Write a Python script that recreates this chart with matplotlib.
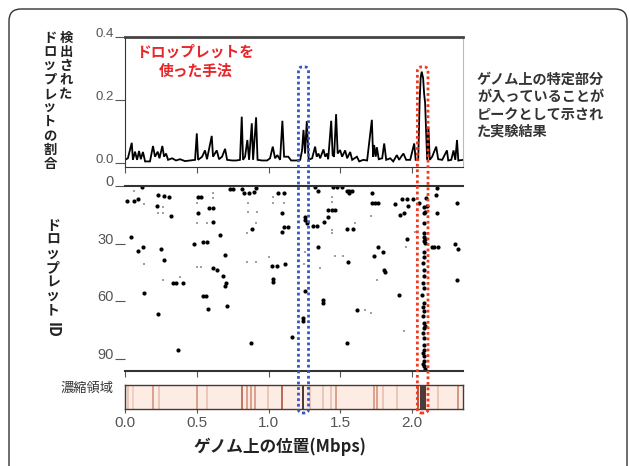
import matplotlib
matplotlib.use("Agg")
import matplotlib.pyplot as plt
from matplotlib.patches import FancyBboxPatch
from matplotlib.colors import LinearSegmentedColormap
from matplotlib.transforms import IdentityTransform

plt.rcParams['font.family'] = ['Noto Sans CJK JP', 'DejaVu Sans']

# top panel: fraction of droplets (position in Mbps, value)
line_x = [0.0, 0.02, 0.047, 0.055, 0.07, 0.084, 0.098, 0.11, 0.125, 0.14, 0.174, 0.195, 0.209, 0.228,
          0.24, 0.26, 0.272, 0.286, 0.3, 0.328, 0.355, 0.383, 0.418, 0.453, 0.488, 0.5, 0.509, 0.537,
          0.557, 0.571, 0.604, 0.613, 0.639, 0.655, 0.676, 0.697, 0.711, 0.746, 0.774, 0.801, 0.813,
          0.822, 0.836, 0.852, 0.864, 0.883, 0.892, 0.913, 0.923, 0.955, 0.99, 1.01, 1.029, 1.045,
          1.061, 1.08, 1.096, 1.108, 1.137, 1.157, 1.192, 1.22, 1.233, 1.243, 1.254, 1.266, 1.279,
          1.303, 1.324, 1.335, 1.347, 1.359, 1.382, 1.394, 1.406, 1.415, 1.436, 1.446, 1.456, 1.47,
          1.481, 1.498, 1.512, 1.533, 1.547, 1.568, 1.582, 1.615, 1.631, 1.659, 1.686, 1.719, 1.728,
          1.735, 1.746, 1.754, 1.767, 1.791, 1.805, 1.819, 1.847, 1.868, 1.893, 1.909, 1.923, 1.939,
          1.958, 1.986, 2.014, 2.024, 2.042, 2.052, 2.059, 2.066, 2.076, 2.083, 2.09, 2.097, 2.104,
          2.113, 2.122, 2.139, 2.167, 2.181, 2.209, 2.242, 2.251, 2.272, 2.288, 2.3, 2.312, 2.321, 2.356]
line_y = [0.01, 0.015, 0.064, 0.01, 0.036, 0.01, 0.038, 0.012, 0.035, 0.005, 0.005, 0.054, 0.02, 0.036,
          0.015, 0.054, 0.02, 0.03, 0.01, 0.015, 0.008, 0.012, 0.006, 0.008, 0.01, 0.094, 0.01, 0.02,
          0.04, 0.012, 0.086, 0.02, 0.04, 0.012, 0.02, 0.045, 0.01, 0.008, 0.008, 0.01, 0.147,
          0.01, 0.02, 0.073, 0.01, 0.126, 0.01, 0.145, 0.01, 0.008, 0.008, 0.015, 0.052, 0.015,
          0.025, 0.01, 0.134, 0.02, 0.02, 0.008, 0.008, 0.01, 0.04, 0.105, 0.03, 0.133, 0.01,
          0.015, 0.052, 0.02, 0.03, 0.015, 0.043, 0.02, 0.03, 0.012, 0.134, 0.025, 0.02, 0.155,
          0.03, 0.041, 0.02, 0.04, 0.015, 0.035, 0.01, 0.02, 0.005, 0.01, 0.008, 0.137, 0.02,
          0.057, 0.02, 0.05, 0.012, 0.015, 0.062, 0.01, 0.015, 0.005, 0.025, 0.01, 0.02, 0.03,
          0.01, 0.01, 0.062, 0.01, 0.01, 0.2, 0.27, 0.29, 0.27, 0.22, 0.19, 0.1, 0.01,
          0.115, 0.01, 0.02, 0.052, 0.012, 0.01, 0.04, 0.008, 0.01, 0.04, 0.01, 0.073, 0.008, 0.01]

# middle panel: droplets with a read (position in Mbps, droplet ID)
dot_x = [0.012, 0.065, 0.093, 0.121, 0.04, 0.093, 0.123, 0.232, 0.272, 0.309, 0.225, 0.32, 0.249, 0.272,
         0.337, 0.355, 0.402, 0.367, 0.506, 0.527, 0.511, 0.483, 0.541, 0.569, 0.585, 0.613, 0.616,
         0.616, 0.639, 0.662, 0.697, 0.68, 0.697, 0.7, 0.708, 0.541, 0.564, 0.576, 0.732, 0.753, 0.817,
         0.831, 0.864, 0.899, 0.913, 0.883, 0.88, 1.022, 1.061, 1.115, 1.064, 1.108, 1.092, 1.108,
         1.136, 1.09, 1.03, 1.034, 1.161, 1.254, 1.254, 1.266, 1.254, 1.24, 1.24, 1.324, 1.312, 1.336,
         1.347, 1.347, 1.449, 1.474, 1.51, 1.545, 1.561, 1.58, 1.561, 1.387, 1.417, 1.417, 1.44, 1.463,
         1.545, 1.591, 1.719, 1.719, 1.742, 1.765, 1.882, 1.916, 1.94, 1.928, 1.963, 1.974, 2.008,
         2.044, 2.098, 2.102, 2.086, 2.172, 2.167, 2.172, 2.311, 1.963, 2.137, 2.155, 2.183, 2.295,
         2.316, 1.765, 1.735, 1.8, 1.556, 1.812, 1.805, 1.905, 1.378, 1.378, 1.614, 1.549, 2.311,
         0.132, 0.23,
         2.085, 2.08, 2.08, 2.085, 2.08, 2.09, 2.08, 2.09, 2.085, 2.08, 2.075, 2.085, 2.08, 2.075,
         2.08, 2.07, 2.085, 2.075, 2.085, 2.075, 2.08, 2.09, 2.085, 2.075, 2.085, 2.08, 2.085,
         2.075, 2.08, 2.085, 2.075, 2.08, 2.09]
dot_id = [7.6, 7.8, 6.8, 0.4, 26.7, 33.7, 31.6, 4.7, 5.2, 5.6, 10.4, 15.6, 32.8, 38.5,
          50.6, 50.6, 50.6, 85.8, 5.6, 5.6, 14.2, 30.5, 29.3, 29.3, 11.3, 11.3, 18.6,
          42.8, 43.7, 25.5, 35.9, 46.8, 52.4, 50.8, 62.8, 57.6, 57.6, 64.0, 1.6, 1.6, 1.6,
          3.5, 3.5, 3.3, 1.0, 22.4, 81.8, 41.6, 41.6, 40.7, 3.5, 3.5, 13.9, 21.5,
          21.5, 24.1, 48.5, 50.3, 78.9, 16.0, 17.7, 19.4, 55.0, 68.8, 70.6, 0.4, 20.8, 20.8,
          31.6, 2.4, 0.4, 0.4, 0.4, 2.4, 2.4, 2.4, 3.5, 18.6, 16.0, 12.5, 12.5, 12.5,
          22.5, 22.5, 3.5, 8.7, 8.7, 8.7, 9.4, 15.1, 13.9, 6.6, 6.6, 10.4, 6.6,
          9.0, 6.4, 10.4, 13.4, 1.2, 4.7, 14.2, 9.0, 27.7, 31.6, 31.6, 31.6, 30.4,
          32.9, 31.9, 36.4, 34.5, 39.9, 44.9, 43.8, 56.7, 59.7, 60.9, 64.9, 81.8, 48.9,
          55.8, 66.6,
          10.8, 14.2, 19.4, 24.6, 26.4, 27.5, 28.6, 29.8, 34.2, 36.8, 40.2, 43.7, 47.2, 50.6,
          53.2, 56.7, 61.0, 63.0, 65.4, 68.0, 71.4, 73.0, 74.0, 76.6, 79.2, 82.7, 85.3,
          87.0, 88.8, 91.4, 93.0, 94.0, 95.5]

faint_x = [0.065, 0.132, 0.132, 0.267, 0.232, 0.267, 0.263, 0.383, 0.5, 0.5, 0.569, 0.5, 0.53, 0.616,
           0.616, 0.86, 0.86, 0.918, 0.852, 0.913, 0.852, 0.913, 1.006, 1.034, 1.034, 1.108, 1.215,
           1.254, 1.247, 1.44, 1.44, 1.44, 1.44, 1.6, 1.714, 1.958, 2.021, 1.463, 1.517, 1.754, 1.359,
           1.672, 1.712, 1.94]
faint_id = [2.4, 9.4, 40.7, 11.1, 13.9, 13.9, 48.9, 47.5, 9.0, 19.4, 19.4, 42.5, 42.5, 3.8,
            6.5, 9.0, 13.4, 13.4, 24.3, 19.4, 39.9, 39.9, 36.8, 5.6, 8.8, 9.0, 32.8,
            34.2, 40.7, 5.6, 8.2, 22.9, 24.6, 19.4, 15.6, 31.6, 23.8, 36.4, 36.4, 48.9, 42.8,
            64.9, 66.2, 75.8]

# bottom strip: enriched regions (position in Mbps, darkness 0..1)
strip_pos = [0.023, 0.054, 0.197, 0.239, 0.5, 0.569, 0.813, 0.848, 0.878, 0.906, 0.999, 1.096, 1.243,
             1.289, 1.382, 1.434, 1.47, 1.731, 1.754, 1.8, 1.893, 2.04, 2.06, 2.075, 2.09, 2.183, 2.318]
strip_level = [0.2, 0.15, 0.4, 0.2, 0.4, 0.2, 0.6, 0.4, 0.4, 0.4, 0.2, 0.65, 1.0,
               0.2, 0.2, 0.2, 0.4, 0.4, 0.4, 0.2, 0.2, 0.7, 1.0, 1.0, 1.0, 0.2, 0.45]

xticks = [0.0, 0.5, 1.0, 1.5, 2.0]
xtick_labels = ['0.0', '0.5', '1.0', '1.5', '2.0']
blue_box = (1.208, 1.278)
red_box = (2.036, 2.11)
box_top = 0.305

W, H = 630, 466
fig = plt.figure(figsize=(W / 100, H / 100), dpi=100)


def add_ax(l, t, r, b):
    return fig.add_axes([l / W, 1 - b / H, (r - l) / W, (b - t) / H])


xmax = (463 - 125) / 143.6
tick_font = dict(family=['Liberation Sans', 'DejaVu Sans'], color='#555555')

# --- top panel
ax1 = add_ax(125, 37, 463, 167)
ax1.plot(line_x, line_y, color='black', lw=1.3, solid_joinstyle='miter')
ax1.set_xlim(0, xmax)
ax1.set_ylim(-0.0127, 0.4)
ax1.set_xticks(xticks)
ax1.set_xticklabels([])
ax1.set_yticks([0.0, 0.2, 0.4])
ax1.set_yticklabels(['0.0', '0.2', '0.4'], fontsize=9.5, **tick_font)
plt.setp(ax1.get_yticklabels(), va='baseline')
ax1.tick_params(axis='y', length=7, width=0.8, color='#555555', pad=1)
ax1.tick_params(axis='x', length=4, width=0.8, color='#555555')
ax1.spines['top'].set_linewidth(2)
ax1.spines['top'].set_color('#444444')
ax1.spines['right'].set_color('#bbbbbb')
ax1.spines['left'].set_color('#333333')
ax1.spines['bottom'].set_color('#333333')

# --- middle panel
ax2 = add_ax(125, 186, 463, 371)
ax2.scatter(faint_x, faint_id, s=3, marker='s', color='#a0a0a0', lw=0)
ax2.scatter(dot_x, dot_id, s=9, marker='o', color='black', lw=0)
ax2.set_xlim(0, xmax)
ax2.set_ylim(96.5, 0)
ax2.set_xticks(xticks)
ax2.set_xticklabels([])
ax2.set_yticks([0, 30, 60, 90])
ax2.set_yticklabels(['0', '30', '60', '90'], fontsize=10.5, **tick_font)
plt.setp(ax2.get_yticklabels(), va='baseline')
ax2.tick_params(axis='y', length=7, width=0.8, color='#555555', pad=1)
ax2.tick_params(axis='x', length=4, width=0.8, color='#555555')
for side in ['left', 'right']:
    ax2.spines[side].set_visible(False)
for side in ['top', 'bottom']:
    ax2.spines[side].set_linewidth(1.5)
    ax2.spines[side].set_color('#333333')

# --- enrichment strip
strip_cmap = LinearSegmentedColormap.from_list('strip', ['#fbe9e0', '#dc9f88', '#a4432c', '#1a0404'])
ax3 = add_ax(125, 385, 463, 409)
ax3.set_facecolor('#fcece4')
ax3.vlines(strip_pos, 0, 1, colors=strip_cmap(strip_level), lw=1.1)
ax3.set_xlim(0, xmax)
ax3.set_ylim(0, 1)
ax3.set_yticks([])
ax3.set_xticks(xticks)
ax3.set_xticklabels(xtick_labels, fontsize=11, **tick_font)
ax3.tick_params(axis='x', length=3, width=0.8, color='#555555', pad=2)
for side in ax3.spines:
    ax3.spines[side].set_color('#4a3a36')
    ax3.spines[side].set_linewidth(1.0)

# --- dotted boxes across the panels
y_bottom = ax3.transAxes.transform((0, 0))[1] - 4
for (x0, x1), col in [(blue_box, '#3556c0'), (red_box, '#f03a22')]:
    p0 = ax1.transData.transform((x0, box_top))
    p1 = ax1.transData.transform((x1, box_top))
    box = FancyBboxPatch((p0[0], y_bottom), p1[0] - p0[0], p0[1] - y_bottom,
                         boxstyle='round,pad=0,rounding_size=4', transform=IdentityTransform(),
                         fill=False, ec=col, lw=2.0, ls=(0, (1, 1)), zorder=10)
    fig.patches.append(box)

# --- outer rounded frame
frame = FancyBboxPatch((9, -12), 618, H - 9 + 12, boxstyle='round,pad=0,rounding_size=12',
                       transform=IdentityTransform(), fill=False, ec='#333333', lw=1.0)
fig.patches.append(frame)

# vertical (top-to-bottom) labels, one text per column
label_kw = dict(ha='center', va='top', color='#222222', fontweight='bold')
fig.text(66 / W, 1 - 31 / H, '\n'.join('検出された'), fontsize=9.6, linespacing=1.0, **label_kw)
fig.text(50 / W, 1 - 31 / H, '\n'.join('ドロップレットの割合'), fontsize=9.6, linespacing=1.0, **label_kw)
fig.text(53 / W, 1 - 219 / H, '\n'.join('ドロップレット'), fontsize=10, linespacing=1.0, **label_kw)
fig.text(53 / W, 1 - 330 / H, 'ID', rotation=-90, ha='center', va='center',
         fontsize=11, color='#222222', fontweight='bold')

fig.text(113 / W, 1 - 388 / H, '濃縮領域', ha='right', va='center', fontsize=9.5, color='#333333')
fig.text(280 / W, 1 - 447 / H, 'ゲノム上の位置(Mbps)', ha='center', va='center',
         fontsize=12, color='#222222', fontweight='bold')

fig.text(196 / W, 1 - 61 / H, 'ドロップレットを\n使った手法', ha='center', va='center',
         fontsize=10.6, color='#e8262a', fontweight='bold', linespacing=1.25)

note = ['ゲノム上の特定部分', 'が入っていることが', 'ピークとして示され', 'た実験結果']
fig.text(477 / W, 1 - 73 / H, '\n'.join(note), ha='left', va='top', linespacing=1.3,
         fontsize=10.2, color='#333333', fontweight='bold')

fig.savefig('out.png', dpi=100)
